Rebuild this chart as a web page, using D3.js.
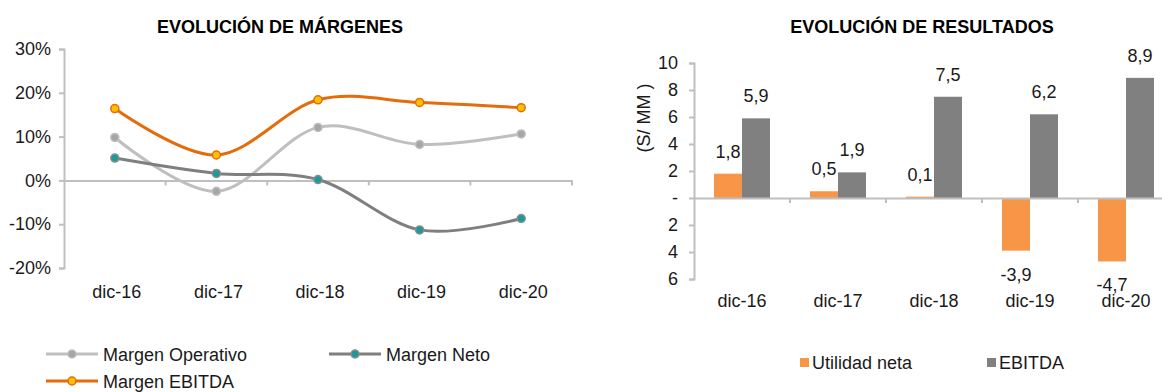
<!DOCTYPE html>
<html><head><meta charset="utf-8">
<script src="https://cdn.jsdelivr.net/npm/d3@7"></script>
<style>
html,body{margin:0;padding:0;background:#fff;}
text{font-family:"Liberation Sans",Arial,sans-serif;}
</style></head>
<body>
<svg id="c" width="1162" height="392"></svg>
<script>
// ---------- DATA ----------
const categories = ["dic-16","dic-17","dic-18","dic-19","dic-20"];
const margenOperativo = [9.8, -2.5, 12.1, 8.2, 10.6];
const margenNeto = [5.1, 1.6, 0.2, -11.3, -8.7];
const margenEbitda = [16.4, 5.8, 18.4, 17.8, 16.6];
const marginTicks = [30, 20, 10, 0, -10, -20];

const utilidadNeta = [1.8, 0.5, 0.1, -3.9, -4.7];
const ebitda = [5.9, 1.9, 7.5, 6.2, 8.9];
const resultTicks = [10, 8, 6, 4, 2, 0, -2, -4, -6];
const resultLabels = ["1,8","0,5","0,1","-3,9","-4,7"];
const ebitdaLabels = ["5,9","1,9","7,5","6,2","8,9"];

const svg = d3.select("#c");
const axisColor = "#BFBFBF";
const textColor = "#1a1a1a";
const FS = 18;
const FF = "Liberation Sans, Arial, sans-serif";

// ---------- LEFT CHART ----------
const L = {x0:64, x1:572, y0:268, y1:49};
const xL = d3.scaleBand().domain(categories).range([L.x0, L.x1]);
const yL = d3.scaleLinear().domain([-20, 30]).range([L.y0, L.y1]);

svg.append("text").attr("x", 280).attr("y", 33).attr("text-anchor","middle")
  .attr("font-size", FS).attr("font-weight","bold").attr("fill","#000")
  .text("EVOLUCIÓN DE MÁRGENES");

const gL = svg.append("g");
const yAxL = d3.axisLeft(yL).tickValues(marginTicks).tickSize(5).tickFormat(d => d + "%");
const gyL = gL.append("g").attr("transform", `translate(${L.x0},0)`).call(yAxL);
gyL.select(".domain").attr("stroke", axisColor).attr("stroke-width", 2);
gyL.selectAll(".tick line").attr("stroke", axisColor).attr("stroke-width", 2);
gyL.selectAll(".tick text").attr("font-size", FS).attr("fill", textColor).attr("x", -13)
  .attr("font-family", FF);

const xAxL = d3.axisBottom(xL).tickSize(0).tickFormat(d => d);
const gxL = gL.append("g").attr("transform", `translate(0,${yL(0)})`).call(xAxL);
gxL.select(".domain").attr("stroke", axisColor).attr("stroke-width", 2);
gxL.selectAll(".tick text").attr("font-size", FS).attr("fill", textColor)
  .attr("x", 2).attr("y", yL(-20) - yL(0) + 30).attr("dy", 0)
  .attr("font-family", FF);
gL.selectAll(".bt").data(categories).enter().append("line")
  .attr("x1", (d,i) => L.x0 + (i+1)*xL.bandwidth()).attr("x2", (d,i) => L.x0 + (i+1)*xL.bandwidth())
  .attr("y1", yL(0)).attr("y2", yL(0)+5).attr("stroke", axisColor).attr("stroke-width", 2);

const seriesL = [
  {name:"Margen Operativo", vals: margenOperativo, line:"#BFBFBF", fill:"#A6A6A6", mstroke:"#BFBFBF"},
  {name:"Margen Neto", vals: margenNeto, line:"#7F7F7F", fill:"#1A9A9A", mstroke:"#8C8C8C"},
  {name:"Margen EBITDA", vals: margenEbitda, line:"#E46C0A", fill:"#FFC000", mstroke:"#E46C0A"}
];
const lineGen = d3.line()
  .x((d,i) => xL(categories[i]) + xL.bandwidth()/2)
  .y(d => yL(d))
  .curve(d3.curveCardinal.tension(0));

seriesL.forEach(s => {
  gL.append("path").attr("d", lineGen(s.vals)).attr("fill","none")
    .attr("stroke", s.line).attr("stroke-width", 3);
});
seriesL.forEach(s => {
  gL.selectAll(null).data(s.vals).enter().append("circle")
    .attr("cx", (d,i) => xL(categories[i]) + xL.bandwidth()/2)
    .attr("cy", d => yL(d)).attr("r", 4)
    .attr("fill", s.fill).attr("stroke", s.mstroke).attr("stroke-width", 1.5);
});

const legL = [
  {s: seriesL[0], x: 46, y: 354},
  {s: seriesL[1], x: 329, y: 354},
  {s: seriesL[2], x: 46, y: 381}
];
legL.forEach(o => {
  const g = svg.append("g");
  g.append("line").attr("x1", o.x).attr("x2", o.x+52).attr("y1", o.y).attr("y2", o.y)
    .attr("stroke", o.s.line).attr("stroke-width", 3);
  g.append("circle").attr("cx", o.x+26).attr("cy", o.y).attr("r", 4)
    .attr("fill", o.s.fill).attr("stroke", o.s.mstroke).attr("stroke-width", 1.5);
  g.append("text").attr("x", o.x+57).attr("y", o.y+6.5).attr("font-size", FS)
    .attr("fill", textColor).text(o.s.name);
});

// ---------- RIGHT CHART ----------
const R = {x0:694, band:96, y0:279, y1:63};
const xR = d3.scaleBand().domain(categories).range([R.x0, R.x0 + R.band*categories.length]);
const yR = d3.scaleLinear().domain([-6, 10]).range([R.y0, R.y1]);
const xInner = d3.scaleBand().domain(["u","e"]).range([0, 56]);
const innerOff = (xR.bandwidth() - 56)/2;

svg.append("text").attr("x", 922).attr("y", 33).attr("text-anchor","middle")
  .attr("font-size", FS).attr("font-weight","bold").attr("fill","#000")
  .text("EVOLUCIÓN DE RESULTADOS");

const gR = svg.append("g");
const yAxR = d3.axisLeft(yR).tickValues(resultTicks).tickSize(5)
  .tickFormat(d => d === 0 ? "-" : String(Math.abs(d)));
const gyR = gR.append("g").attr("transform", `translate(${R.x0},0)`).call(yAxR);
gyR.select(".domain").attr("stroke", axisColor).attr("stroke-width", 2);
gyR.selectAll(".tick line").attr("stroke", axisColor).attr("stroke-width", 2);
gyR.selectAll(".tick text").attr("font-size", FS).attr("fill", textColor).attr("x", -16)
  .attr("font-family", FF);

svg.append("text").attr("transform", `translate(650,118) rotate(-90)`).attr("text-anchor","middle")
  .attr("font-size", FS).attr("fill", textColor).text("(S/ MM )");

gR.selectAll(".bu").data(utilidadNeta).enter().append("rect")
  .attr("x", (d,i) => xR(categories[i]) + innerOff + xInner("u"))
  .attr("width", xInner.bandwidth())
  .attr("y", d => yR(Math.max(0,d)))
  .attr("height", d => Math.abs(yR(d) - yR(0)))
  .attr("fill", "#F79646");
gR.selectAll(".be").data(ebitda).enter().append("rect")
  .attr("x", (d,i) => xR(categories[i]) + innerOff + xInner("e"))
  .attr("width", xInner.bandwidth())
  .attr("y", d => yR(Math.max(0,d)))
  .attr("height", d => Math.abs(yR(d) - yR(0)))
  .attr("fill", "#808080");

const xAxR = d3.axisBottom(xR).tickSize(0);
const gxR = gR.append("g").attr("transform", `translate(0,${yR(0)})`).call(xAxR);
gxR.select(".domain").attr("stroke", axisColor).attr("stroke-width", 2);
gxR.selectAll(".tick text").attr("font-size", FS).attr("fill", textColor)
  .attr("y", yR(-6) - yR(0) + 28).attr("dy", 0)
  .attr("font-family", FF);
gR.selectAll(".bt").data(categories).enter().append("line")
  .attr("x1", (d,i) => R.x0 + (i+1)*R.band).attr("x2", (d,i) => R.x0 + (i+1)*R.band)
  .attr("y1", yR(0)).attr("y2", yR(0)+5).attr("stroke", axisColor).attr("stroke-width", 2);

gR.selectAll(".lu").data(utilidadNeta).enter().append("text")
  .attr("x", (d,i) => xR(categories[i]) + innerOff + xInner("u") + xInner.bandwidth()/2)
  .attr("y", d => d >= 0 ? yR(d) - 16 : yR(d) + 30)
  .attr("text-anchor","middle").attr("font-size", FS).attr("fill", textColor)
  .text((d,i) => resultLabels[i]);
gR.selectAll(".le").data(ebitda).enter().append("text")
  .attr("x", (d,i) => xR(categories[i]) + innerOff + xInner("e") + xInner.bandwidth()/2)
  .attr("y", d => yR(d) - 16)
  .attr("text-anchor","middle").attr("font-size", FS).attr("fill", textColor)
  .text((d,i) => ebitdaLabels[i]);

const legR = [
  {name:"Utilidad neta", color:"#F79646", x: 800},
  {name:"EBITDA", color:"#808080", x: 987}
];
legR.forEach(o => {
  svg.append("rect").attr("x", o.x).attr("y", 358).attr("width", 9).attr("height", 9).attr("fill", o.color);
  svg.append("text").attr("x", o.x+12).attr("y", 369).attr("font-size", FS).attr("fill", textColor).text(o.name);
});
</script>
</body></html>
